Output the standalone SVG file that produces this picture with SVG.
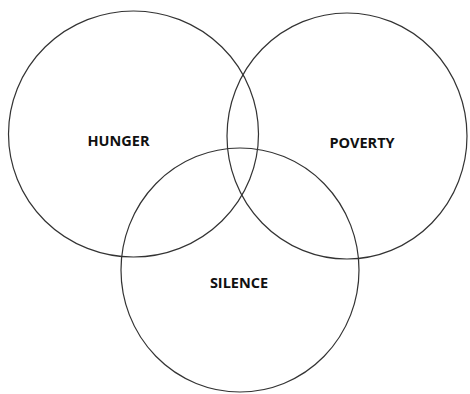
<svg xmlns="http://www.w3.org/2000/svg" width="470" height="394" viewBox="0 0 470 394">
<style>
.c{fill:none;stroke:#333;stroke-width:1.2}
.t{font-family:"Open Sans","Liberation Sans",sans-serif;font-weight:bold;font-size:14.5px;fill:#111;text-anchor:middle}
</style>
<rect width="470" height="394" fill="#fff"/>
<g id="hunger"><ellipse class="c" cx="133.5" cy="134" rx="125" ry="123"/><text class="t" x="118.5" y="145.5">HUNGER</text></g>
<g id="poverty"><ellipse class="c" cx="347" cy="136" rx="120" ry="123"/><text class="t" x="362" y="147.5">POVERTY</text></g>
<g id="silence"><ellipse class="c" cx="240" cy="270" rx="119" ry="122"/><text class="t" x="239" y="287.5">SILENCE</text></g>
<g id="connectors"/>
</svg>
